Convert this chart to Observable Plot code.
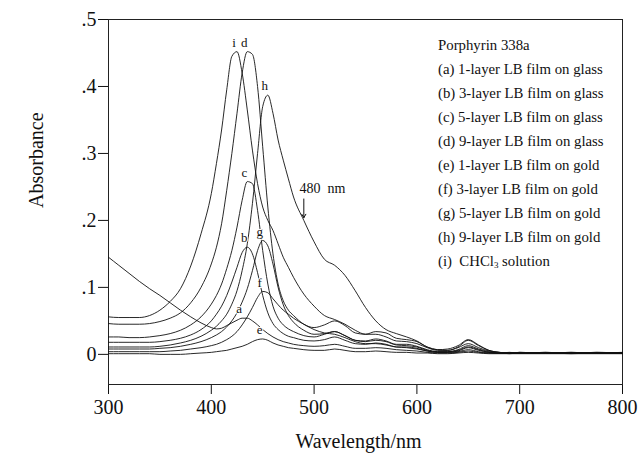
<!DOCTYPE html>
<html><head><meta charset="utf-8">
<script src="https://cdn.jsdelivr.net/npm/d3@7"></script>
<script src="https://cdn.jsdelivr.net/npm/@observablehq/plot@0.6"></script>
<style>
body{margin:0;background:#fff;}
#wrap{position:relative;width:639px;height:473px;font-family:"Liberation Serif","Times New Roman",serif;}
#legend{position:absolute;left:438px;top:33px;font-size:14.8px;line-height:24px;color:#111;white-space:nowrap;}
#legend sub{font-size:9px;vertical-align:-2px;line-height:0;}
</style></head><body><div id="wrap"><div id="legend"></div></div>
<script>
// Wavelength grid (nm)
const wavelength = [300,310,320,330,340,350,360,370,380,390,400,405,410,415,420,425,430,435,440,445,450,455,460,465,470,475,480,490,500,510,520,530,540,550,560,570,580,590,600,610,620,630,640,650,660,670,680,690,700,725,750,775,800];

// Absorbance series
const seriesA = [.145,.133,.121,.109,.098,.088,.077,.066,.056,.047,.040,.038,.039,.043,.047,.051,.054,.054,.050,.044,.037,.031,.026,.022,.019,.017,.015,.013,.012,.013,.015,.012,.009,.009,.010,.009,.007,.006,.005,.003,.002,.002,.003,.005,.003,.002,.002,.002,.002,.003,.002,.002,.003];
const seriesB = [.018,.018,.018,.018,.018,.019,.021,.024,.029,.037,.050,.060,.072,.088,.108,.130,.152,.160,.150,.122,.088,.062,.046,.037,.031,.027,.025,.021,.020,.022,.026,.021,.016,.015,.017,.015,.011,.011,.009,.005,.003,.003,.005,.010,.006,.003,.002,.002,.003,.002,.003,.002,.002];
const seriesC = [.026,.026,.025,.025,.026,.028,.031,.036,.044,.056,.075,.088,.105,.128,.155,.190,.230,.258,.255,.215,.155,.105,.072,.054,.044,.038,.034,.028,.026,.030,.034,.028,.021,.020,.023,.020,.015,.015,.012,.007,.004,.004,.007,.013,.008,.004,.002,.003,.002,.002,.002,.003,.002];
const seriesD = [.046,.045,.045,.045,.046,.049,.054,.062,.077,.100,.135,.160,.195,.245,.300,.360,.420,.452,.448,.400,.310,.220,.150,.105,.080,.066,.058,.045,.040,.044,.050,.043,.032,.030,.034,.032,.024,.022,.019,.011,.007,.006,.011,.021,.013,.006,.003,.002,.002,.003,.002,.002,.002];
const seriesE = [.001,.001,.001,.001,.001,.000,.000,.000,.001,.002,.003,.004,.005,.006,.008,.010,.012,.015,.019,.022,.023,.021,.017,.014,.012,.010,.009,.007,.006,.006,.008,.006,.004,.004,.005,.004,.003,.003,.002,.002,.001,.001,.002,.003,.002,.001,.001,.001,.001,.001,.001,.001,.001];
const seriesF = [.004,.004,.004,.004,.004,.004,.005,.006,.008,.010,.013,.015,.018,.022,.027,.034,.044,.056,.070,.085,.094,.092,.083,.074,.066,.060,.054,.045,.037,.032,.030,.025,.019,.016,.016,.014,.011,.010,.008,.005,.003,.003,.004,.007,.004,.002,.002,.001,.002,.002,.001,.002,.002];
const seriesG = [.008,.008,.008,.008,.008,.009,.010,.012,.015,.019,.025,.029,.034,.041,.050,.062,.078,.098,.125,.155,.170,.162,.135,.100,.074,.058,.048,.036,.030,.031,.034,.028,.021,.019,.021,.019,.014,.013,.011,.006,.004,.004,.006,.011,.007,.003,.002,.002,.002,.002,.003,.002,.002];
const seriesH = [.011,.011,.011,.011,.011,.012,.014,.017,.021,.027,.036,.042,.050,.060,.075,.095,.125,.165,.225,.300,.370,.387,.360,.320,.290,.262,.235,.200,.168,.142,.133,.118,.095,.070,.050,.037,.031,.026,.020,.011,.007,.008,.013,.022,.014,.006,.003,.002,.003,.002,.002,.003,.002];
const seriesI = [.056,.055,.055,.055,.058,.066,.079,.098,.132,.180,.240,.285,.335,.395,.445,.452,.420,.365,.305,.255,.220,.200,.185,.165,.145,.130,.115,.090,.072,.058,.052,.045,.036,.030,.030,.026,.020,.019,.016,.010,.006,.006,.010,.016,.010,.005,.003,.002,.002,.002,.002,.002,.002];

const seriesKeys = ["a","b","c","d","e","f","g","h","i"];
const seriesValues = [seriesA,seriesB,seriesC,seriesD,seriesE,seriesF,seriesG,seriesH,seriesI];

const xTicks = [300,400,500,600,700,800];
const yTicks = [0,0.1,0.2,0.3,0.4,0.5];

const legendTitle = "Porphyrin 338a";
const legendLines = [
  "(a) 1-layer LB film on glass",
  "(b) 3-layer LB film on glass",
  "(c) 5-layer LB film on glass",
  "(d) 9-layer LB film on glass",
  "(e) 1-layer LB film on gold",
  "(f) 3-layer LB film on gold",
  "(g) 5-layer LB film on gold",
  "(h) 9-layer LB film on gold",
  "(i)&nbsp; CHCl<sub>3</sub> solution"
];

const noteText = "480  nm";
const noteArrow = [{x: 490, y1: 0.232, y2: 0.204}];
const noteLabel = [{x: 508, y: 0.248, text: noteText}];

// tidy rows
const rows = [];
seriesKeys.forEach((k, j) => seriesValues[j].forEach((v, i) => rows.push({s: k, nm: wavelength[i], abs: v})));

// label each curve at its Soret maximum
const peaks = seriesKeys.map((k, j) => {
  let best = null;
  seriesValues[j].forEach((v, i) => {
    const w = wavelength[i];
    if (w >= 400 && w <= 480 && (!best || v > best.abs)) best = {s: k, nm: w, abs: v};
  });
  return best;
});

const chart = Plot.plot({
  width: 639, height: 473,
  marginLeft: 108, marginRight: 17, marginTop: 19, marginBottom: 89,
  style: {fontFamily: "'Liberation Serif', 'Times New Roman', serif", fontSize: "20px", color: "#111", background: "white", overflow: "visible"},
  x: {domain: [300, 800], ticks: xTicks, tickSize: 10, tickPadding: 5, label: null},
  y: {domain: [-0.045, 0.5], ticks: yTicks, tickSize: 10, tickPadding: 2, label: null,
      tickFormat: d => d === 0 ? "0" : d3.format(".1f")(d).replace(/^0/, "")},
  marks: [
    Plot.frame({stroke: "#222", strokeWidth: 1}),
    Plot.line(rows, {x: "nm", y: "abs", z: "s", stroke: "#111", strokeWidth: 0.9, curve: "monotone-x"}),
    Plot.text(peaks, {x: "nm", y: "abs", text: "s", dy: -9, dx: -3, fontSize: 13, fill: "#111", stroke: "white", strokeWidth: 2, paintOrder: "stroke"}),
    Plot.text(noteLabel, {x: "x", y: "y", text: "text", fontSize: 14, fill: "#111"}),
    Plot.arrow(noteArrow, {x1: "x", x2: "x", y1: "y1", y2: "y2", stroke: "#111", strokeWidth: 1, headLength: 6}),
    Plot.text(["Absorbance"], {frameAnchor: "left", dx: -72, dy: 6, rotate: -90, fontSize: 20, fill: "#111"}),
    Plot.text(["Wavelength/nm"], {frameAnchor: "bottom", dy: 63, dx: -7, fontSize: 20, fill: "#111"})
  ]
});
document.getElementById("wrap").prepend(chart);
document.getElementById("legend").innerHTML = [legendTitle, ...legendLines].map(t => `<div>${t}</div>`).join("");
</script>
</body></html>
